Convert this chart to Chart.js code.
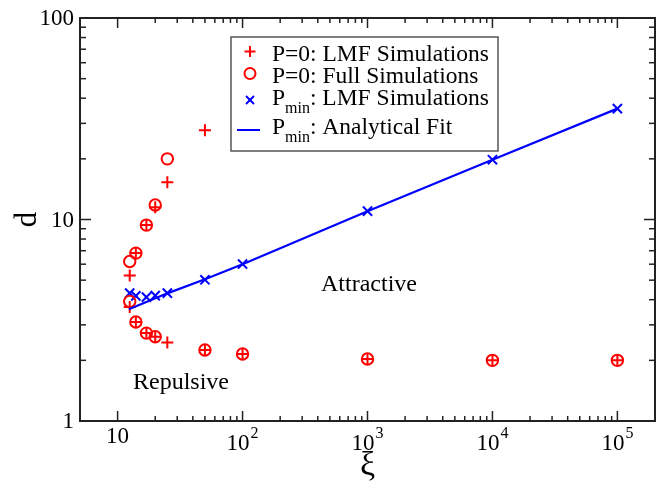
<!DOCTYPE html>
<html>
<head>
<meta charset="utf-8">
<script src="https://cdn.jsdelivr.net/npm/chart.js@4.4.1/dist/chart.umd.min.js"></script>
<style>
  html, body { margin: 0; padding: 0; background: #fff; }
  #wrap { width: 667px; height: 491px; }
</style>
</head>
<body>
<div id="wrap"><canvas id="grafico"></canvas></div>
<script>
// P=0: LMF simulations (+)
const xiLmf0 = [12.5, 12.5, 14, 14, 17, 17, 20, 20, 25, 25, 50, 50, 100, 1000, 10000, 100000];
const dLmf0  = [5.27, 3.68, 6.81, 3.10, 9.38, 2.73, 11.5, 2.62, 15.3, 2.45, 27.7, 2.25, 2.15, 2.03, 2.0, 2.0];

// P=0: full simulations (o)
const xiFull0 = [12.5, 12.5, 14, 14, 17, 17, 20, 20, 25, 50, 100, 1000, 10000, 100000];
const dFull0  = [6.19, 3.92, 6.81, 3.10, 9.38, 2.73, 11.8, 2.62, 20.0, 2.25, 2.15, 2.03, 2.0, 2.0];

// P_min: LMF simulations (x)
const xiLmfMin = [12.5, 14, 17, 20, 25, 50, 100, 1000, 10000, 100000];
const dLmfMin  = [4.31, 4.18, 4.12, 4.19, 4.31, 5.02, 6.01, 11.0, 19.8, 35.5];

// P_min: analytical fit (line)
const xiFit = [12.3, 25, 50, 100, 1000, 10000, 100000];
const dFit  = [3.59, 4.3, 5.05, 6.0, 11.0, 19.8, 35.5];

// axes
const xMajor = [10, 100, 1000, 10000, 100000];
const xExp   = [1, 2, 3, 4, 5];
const yMajor = [1, 10, 100];
const yLabels = ['1', '10', '100'];

const ROJO = '#ff0000';
const AZUL = '#0000ff';
const SERIF = '"Liberation Serif", "Times New Roman", serif';

const pts = (xs, ys) => xs.map((x, i) => ({ x: x, y: ys[i] }));

function minores(majors) {
  const out = [];
  for (let i = 0; i < majors.length - 1; i++) {
    for (let k = 2; k <= 9; k++) out.push(majors[i] * k);
  }
  return out;
}

const decorado = {
  id: 'decorado',
  afterDraw(chart) {
    const ctx = chart.ctx;
    const a = chart.chartArea;
    const sx = chart.scales.x, sy = chart.scales.y;
    ctx.save();

    // ticks (inside, on all four sides)
    ctx.strokeStyle = '#222';
    ctx.lineWidth = 1.5;
    const linea = (x1, y1, x2, y2) => { ctx.beginPath(); ctx.moveTo(x1, y1); ctx.lineTo(x2, y2); ctx.stroke(); };
    xMajor.forEach(v => { const p = sx.getPixelForValue(v); linea(p, a.bottom, p, a.bottom - 10); linea(p, a.top, p, a.top + 10); });
    minores(xMajor).forEach(v => { const p = sx.getPixelForValue(v); linea(p, a.bottom, p, a.bottom - 5); linea(p, a.top, p, a.top + 5); });
    yMajor.forEach(v => { const p = sy.getPixelForValue(v); linea(a.left, p, a.left + 11, p); linea(a.right, p, a.right - 11, p); });
    minores(yMajor).forEach(v => { const p = sy.getPixelForValue(v); linea(a.left, p, a.left + 6, p); linea(a.right, p, a.right - 6, p); });

    // frame
    ctx.lineWidth = 2;
    ctx.strokeRect(a.left, a.top, a.right - a.left, a.bottom - a.top);

    // tick labels
    ctx.fillStyle = '#000';
    ctx.font = '23px ' + SERIF;
    ctx.textAlign = 'right';
    ctx.textBaseline = 'middle';
    yMajor.forEach((v, i) => ctx.fillText(yLabels[i], a.left - 6, sy.getPixelForValue(v) + 1));

    ctx.textBaseline = 'alphabetic';
    xMajor.forEach((v, i) => {
      const p = sx.getPixelForValue(v);
      ctx.font = '23px ' + SERIF;
      if (xExp[i] === 1) {
        ctx.textAlign = 'center';
        ctx.fillText('10', p, 443);
      } else {
        const wb = ctx.measureText('10').width;
        ctx.font = '16px ' + SERIF;
        const we = ctx.measureText(String(xExp[i])).width;
        const x0 = p - (wb + we + 1) / 2;
        ctx.textAlign = 'left';
        ctx.font = '23px ' + SERIF;
        ctx.fillText('10', x0, 450);
        ctx.font = '16px ' + SERIF;
        ctx.fillText(String(xExp[i]), x0 + wb + 1, 438);
      }
    });

    // axis titles
    ctx.textAlign = 'center';
    ctx.font = '34px ' + SERIF;
    ctx.fillText('\u03be', (a.left + a.right) / 2, 475);
    ctx.save();
    ctx.translate(36, (a.top + a.bottom) / 2);
    ctx.rotate(-Math.PI / 2);
    ctx.font = '31px ' + SERIF;
    ctx.fillText('d', 0, 0);
    ctx.restore();

    // region labels
    ctx.font = '24px ' + SERIF;
    ctx.fillText('Attractive', 369, 291);
    ctx.fillText('Repulsive', 181, 389);

    // legend
    const bx = 231, by = 37, bw = 267, bh = 114;
    ctx.fillStyle = '#fff';
    ctx.fillRect(bx, by, bw, bh);
    ctx.strokeStyle = '#555';
    ctx.lineWidth = 1.5;
    ctx.strokeRect(bx, by, bw, bh);

    const sxm = 250;
    ctx.lineWidth = 2;
    ctx.strokeStyle = ROJO;
    linea(sxm - 5.5, 51.5, sxm + 5.5, 51.5); linea(sxm, 46, sxm, 57);
    ctx.beginPath(); ctx.arc(sxm, 73.5, 5.5, 0, Math.PI * 2); ctx.stroke();
    ctx.strokeStyle = AZUL;
    linea(sxm - 4, 96, sxm + 4, 104); linea(sxm - 4, 104, sxm + 4, 96);
    linea(237, 130, 260, 130);

    ctx.fillStyle = '#000';
    ctx.textAlign = 'left';
    const tx = 272;
    ctx.font = '23.5px ' + SERIF;
    ctx.fillText('P=0: LMF Simulations', tx, 61);
    ctx.fillText('P=0: Full Simulations', tx, 83);
    const conSub = (base, rest, y) => {
      ctx.font = '23.5px ' + SERIF;
      ctx.fillText(base, tx, y);
      let x = tx + ctx.measureText(base).width;
      ctx.font = '16px ' + SERIF;
      ctx.fillText('min', x, y + 8);
      x += ctx.measureText('min').width;
      ctx.font = '23.5px ' + SERIF;
      ctx.fillText(rest, x, y);
    };
    conSub('P', ': LMF Simulations', 105);
    conSub('P', ': Analytical Fit', 134);

    ctx.restore();
  }
};

const ctx = document.getElementById('grafico').getContext('2d');
new Chart(ctx, {
  type: 'scatter',
  data: {
    datasets: [
      {
        label: 'P_min: Analytical Fit',
        data: pts(xiFit, dFit),
        showLine: true,
        borderColor: AZUL,
        borderWidth: 2.2,
        pointRadius: 0,
        fill: false
      },
      {
        label: 'P=0: LMF Simulations',
        data: pts(xiLmf0, dLmf0),
        pointStyle: 'cross',
        pointRadius: 6,
        borderColor: ROJO,
        borderWidth: 2
      },
      {
        label: 'P=0: Full Simulations',
        data: pts(xiFull0, dFull0),
        pointStyle: 'circle',
        pointRadius: 5.7,
        borderColor: ROJO,
        backgroundColor: 'rgba(0,0,0,0)',
        borderWidth: 2
      },
      {
        label: 'P_min: LMF Simulations',
        data: pts(xiLmfMin, dLmfMin),
        pointStyle: 'crossRot',
        pointRadius: 6.5,
        borderColor: AZUL,
        borderWidth: 2
      }
    ]
  },
  options: {
    responsive: true,
    maintainAspectRatio: false,
    animation: false,
    events: [],
    layout: { padding: { top: 18, right: 12, left: 0, bottom: 0 } },
    plugins: { legend: { display: false }, tooltip: { enabled: false } },
    scales: {
      x: {
        type: 'logarithmic',
        min: 5,
        max: 200000,
        grid: { display: false },
        border: { display: false },
        ticks: { display: false },
        afterFit: s => { s.height = 70; }
      },
      y: {
        type: 'logarithmic',
        min: 1,
        max: 100,
        grid: { display: false },
        border: { display: false },
        ticks: { display: false },
        afterFit: s => { s.width = 80; }
      }
    }
  },
  plugins: [decorado]
});
</script>
</body>
</html>
